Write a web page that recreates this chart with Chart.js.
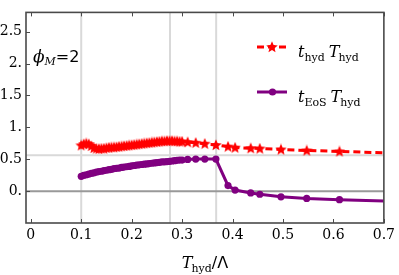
<!DOCTYPE html>
<html><head><meta charset="utf-8">
<script src="https://cdn.jsdelivr.net/npm/chart.js@4.4.1/dist/chart.umd.min.js"></script>
<style>html,body{margin:0;padding:0;background:#fff;overflow:hidden}</style>
</head><body><canvas id="c" width="399" height="275"></canvas>
<script>
// ---- data ----
const temps = [0.100,0.105,0.110,0.115,0.120,0.125,0.130,0.135,0.140,0.145,
  0.150,0.155,0.160,0.165,0.170,0.175,0.180,0.185,0.190,0.195,
  0.200,0.205,0.210,0.215,0.220,0.225,0.230,0.235,0.240,0.245,
  0.250,0.255,0.260,0.265,0.270,0.275,0.280,0.285,0.290,0.295,
  0.300,0.311,0.327,0.345,0.367,0.391,0.405,0.436,0.454,0.496,0.547,0.612,0.750];
const tHydValues = [0.72,0.74,0.75,0.74,0.71,0.68,0.67,0.665,0.67,0.67,
  0.68,0.685,0.69,0.69,0.695,0.70,0.705,0.71,0.715,0.72,
  0.725,0.73,0.735,0.74,0.745,0.75,0.755,0.76,0.765,0.77,
  0.775,0.78,0.785,0.785,0.79,0.79,0.79,0.785,0.785,0.78,
  0.78,0.77,0.76,0.745,0.725,0.70,0.685,0.675,0.67,0.655,0.64,0.625,0.59];
const tEosValues = [0.235,0.25,0.26,0.27,0.28,0.29,0.30,0.31,0.315,0.325,
  0.33,0.34,0.345,0.355,0.36,0.365,0.375,0.38,0.385,0.39,
  0.40,0.405,0.41,0.415,0.42,0.425,0.43,0.435,0.44,0.445,
  0.45,0.455,0.46,0.46,0.465,0.47,0.475,0.48,0.485,0.49,
  0.49,0.50,0.505,0.505,0.505,0.09,0.02,-0.025,-0.045,-0.085,-0.11,-0.13,-0.165];
const xTickValues = [0,0.1,0.2,0.3,0.4,0.5,0.6,0.7];
const xTickLabels = ["0","0.1","0.2","0.3","0.4","0.5","0.6","0.7"];
const yTickValues = [0,0.5,1,1.5,2,2.5];
const yTickLabels = ["0.","0.5","1.","1.5","2.","2.5"];
const gridX = [0.1,0.276,0.3675];
const gridYLight = [0.565];
const gridYDark = [0];

// ---- styling helpers ----
const RED = '#ff0000', PURPLE = '#800080', FRAME = '#4a4a4a';
const SERIF = 'DejaVu Serif';
function makeStar(size, color){
  const c = document.createElement('canvas'); c.width = c.height = size;
  const g = c.getContext('2d'); const R = size/2, r = R*0.45;
  g.beginPath();
  for (let k=0;k<10;k++){
    const a = -Math.PI/2 + k*Math.PI/5; const rr = k%2? r : R;
    const px = R + rr*Math.cos(a), py = R*1.05 + rr*Math.sin(a);
    k? g.lineTo(px,py) : g.moveTo(px,py);
  }
  g.closePath(); g.fillStyle = color; g.fill();
  return c;
}
const starImg = makeStar(12, RED);

function drawRuns(ctx, x, y, runs, center){
  let w = 0;
  runs.forEach(r => { ctx.font = r.font; w += ctx.measureText(r.t).width + (r.kern||0); });
  let cx = center ? x - w/2 : x;
  runs.forEach(r => {
    ctx.font = r.font; ctx.fillText(r.t, cx, y + (r.dy||0));
    cx += ctx.measureText(r.t).width + (r.kern||0);
  });
}

const decor = {
  id: 'decor',
  beforeDatasetsDraw(chart){
    const {ctx, chartArea: a, scales: {x, y}} = chart;
    ctx.save();
    ctx.lineWidth = 2; ctx.strokeStyle = '#d9d9d9';
    gridX.forEach(v => { const px = x.getPixelForValue(v); ctx.beginPath(); ctx.moveTo(px,a.top); ctx.lineTo(px,a.bottom); ctx.stroke(); });
    gridYLight.forEach(v => { const py = y.getPixelForValue(v); ctx.beginPath(); ctx.moveTo(a.left,py); ctx.lineTo(a.right,py); ctx.stroke(); });
    ctx.strokeStyle = '#999999';
    gridYDark.forEach(v => { const py = y.getPixelForValue(v); ctx.beginPath(); ctx.moveTo(a.left,py); ctx.lineTo(a.right,py); ctx.stroke(); });
    ctx.restore();
  },
  afterDatasetsDraw(chart){
    const {ctx, chartArea: a, scales: {x, y}} = chart;
    ctx.save();
    ctx.strokeStyle = FRAME; ctx.lineWidth = 1;
    xTickValues.forEach(v => { const px = Math.round(x.getPixelForValue(v))+0.5;
      ctx.beginPath(); ctx.moveTo(px,a.bottom); ctx.lineTo(px,a.bottom-4); ctx.stroke();
      ctx.beginPath(); ctx.moveTo(px,a.top); ctx.lineTo(px,a.top+4); ctx.stroke(); });
    yTickValues.forEach(v => { const py = Math.round(y.getPixelForValue(v))+0.5;
      ctx.beginPath(); ctx.moveTo(a.left,py); ctx.lineTo(a.left+4,py); ctx.stroke(); });
    ctx.lineWidth = 1.6;
    ctx.strokeRect(a.left, a.top, a.right-a.left, a.bottom-a.top);
    ctx.restore();
  },
  afterDraw(chart){
    const {ctx, chartArea: a} = chart;
    ctx.save();
    ctx.fillStyle = '#000'; ctx.textBaseline = 'alphabetic';
    // x axis title
    drawRuns(ctx, (a.left+a.right)/2, 268, [
      {t:'T', font:'italic 16px "DejaVu Serif"', kern:-1},
      {t:'hyd', font:'11px "DejaVu Serif"', dy:3.5},
      {t:'/Λ', font:'16px "DejaVu Sans"'}], true);
    // phi label
    drawRuns(ctx, 33, 62, [
      {t:'ϕ', font:'italic 17px "DejaVu Serif"'},
      {t:'M', font:'italic 11px "DejaVu Serif"', dy:3},
      {t:'=2', font:'16px "DejaVu Sans"'}], false);
    // legend
    const rows = [
      {y:47, color:RED, dash:[7,4], sub:'hyd'},
      {y:92, color:PURPLE, dash:[], sub:'EoS'}];
    rows.forEach((r, i) => {
      ctx.save();
      ctx.strokeStyle = r.color; ctx.lineWidth = 3; ctx.setLineDash(r.dash);
      ctx.beginPath(); ctx.moveTo(257, r.y); ctx.lineTo(287, r.y); ctx.stroke();
      ctx.setLineDash([]);
      if (i === 0) ctx.drawImage(starImg, 272 - starImg.width/2, r.y - starImg.height/2);
      else { ctx.fillStyle = r.color; ctx.beginPath(); ctx.arc(272.5, r.y, 3.6, 0, Math.PI*2); ctx.fill(); }
      ctx.restore();
      ctx.fillStyle = '#000';
      drawRuns(ctx, 298, r.y + 10, [
        {t:'t', font:'italic 16px "DejaVu Serif"'},
        {t:r.sub, font:'11px "DejaVu Serif"', dy:3.5, kern:4},
        {t:'T', font:'italic 16px "DejaVu Serif"', kern:-1},
        {t:'hyd', font:'11px "DejaVu Serif"', dy:3.5}], false);
    });
    ctx.restore();
  }
};

Chart.defaults.font.family = SERIF;
Chart.defaults.color = '#000';

new Chart(document.getElementById('c'), {
  type: 'line',
  data: {
    datasets: [
      { label: 't_hyd T_hyd', data: temps.map((t,i)=>({x:t, y:tHydValues[i]})),
        borderColor: RED, backgroundColor: RED, borderWidth: 3, borderDash: [7,4],
        pointStyle: starImg, pointRadius: 6, pointHoverRadius: 6, tension: 0, clip: 0, order: 2 },
      { label: 't_EoS T_hyd', data: temps.map((t,i)=>({x:t, y:tEosValues[i]})),
        borderColor: PURPLE, backgroundColor: PURPLE, borderWidth: 3,
        pointStyle: 'circle', pointRadius: 3.6, pointBorderWidth: 0, pointHoverRadius: 3.6,
        tension: 0, clip: 0, order: 1 }
    ]
  },
  options: {
    responsive: false, animation: false, events: [],
    layout: { padding: { top: 1, right: 13, left: 0, bottom: 0 } },
    plugins: { legend: { display: false }, tooltip: { enabled: false } },
    scales: {
      x: { type: 'linear', min: -0.0095, max: 0.7,
        grid: { display: false, drawTicks: false }, border: { display: false },
        afterBuildTicks: s => { s.ticks = xTickValues.map(v => ({value: v})); },
        afterFit: s => { s.height = 52; },
        ticks: { font: { family: SERIF, size: 14 }, padding: 4, maxRotation: 0, autoSkip: false,
          callback: v => { const i = xTickValues.indexOf(v); return i >= 0 ? xTickLabels[i] : ''; } } },
      y: { type: 'linear', min: -0.495, max: 2.80,
        grid: { display: false, drawTicks: false }, border: { display: false },
        afterBuildTicks: s => { s.ticks = yTickValues.map(v => ({value: v})); },
        afterFit: s => { s.width = 26; },
        ticks: { font: { family: SERIF, size: 14 }, padding: 4, autoSkip: false,
          callback: v => { const i = yTickValues.indexOf(v); return i >= 0 ? yTickLabels[i] : ''; } } }
    }
  },
  plugins: [decor]
});
</script>
</body></html>
